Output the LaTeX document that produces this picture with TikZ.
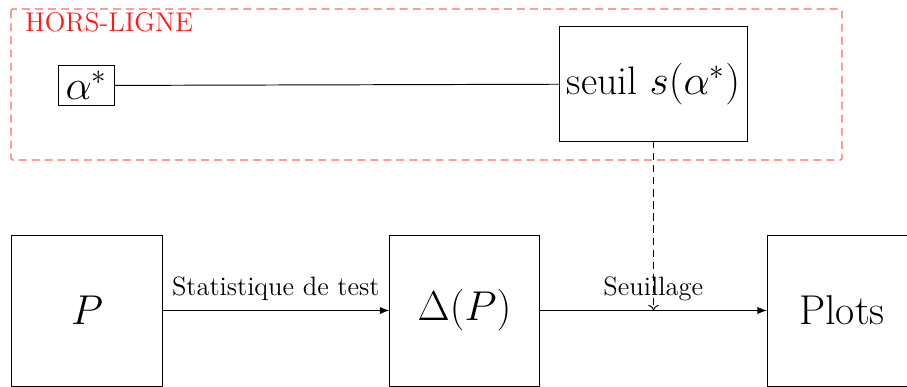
\documentclass[tikz,border=0pt]{standalone}
\usetikzlibrary{arrows.meta}
\begin{document}
\begin{tikzpicture}[x=0.4145pt,y=-0.4145pt,
  every node/.style={inner sep=0pt, outer sep=0pt},
  bigbox/.style={draw, line width=0.4pt, minimum width=62.2pt, minimum height=62.6pt, font=\fontsize{17.28}{20}\selectfont},
  lbl/.style={font=\fontsize{11}{13}\selectfont, above, yshift=4pt},
  arr/.style={line width=0.4pt, -{Latex[length=4pt,width=3pt]}},
  frame/.style={draw=red!60, line width=0.5pt, dash pattern=on 3.3pt off 2.1pt, rounded corners=0.6pt}]
\useasboundingbox (0,0) rectangle (907,387);
% offline frame
\draw[frame] (11,9) rectangle (842,160);
\node[anchor=base west, text=red!90, font=\fontsize{11.2}{13}\selectfont] (hl) at (25,32) {HORS-LIGNE};
% nodes
\node[draw, line width=0.4pt, minimum width=23.6pt, minimum height=16.2pt, font=\fontsize{16.5}{19}\selectfont] (alpha) at (86.5,85.5) {$\alpha^*$};
\node[draw, line width=0.4pt, minimum width=78.3pt, minimum height=47.3pt, font=\fontsize{16.5}{19}\selectfont] (seuil) at (653.5,84) {seuil $s(\alpha^*)$};
\node[bigbox] (P) at (87,310.5) {$P$};
\node[bigbox] (D) at (464.5,310.5) {$\Delta(P)$};
\node[bigbox] (Plots) at (842,310.5) {Plots};
% connectors
\draw[line width=0.4pt] (alpha) -- (seuil);
\draw[arr] (P) -- node[lbl] (st) {Statistique de test} (D);
\draw[arr] (D) -- node[lbl] (se) {Seuillage} (Plots);
\coordinate (hit) at (seuil.south |- D.east);
\draw[line width=0.4pt, dash pattern=on 3pt off 2pt, -{To[length=2.4pt,width=4.4pt]}] (seuil.south) -- (hit);
\end{tikzpicture}
\end{document}
